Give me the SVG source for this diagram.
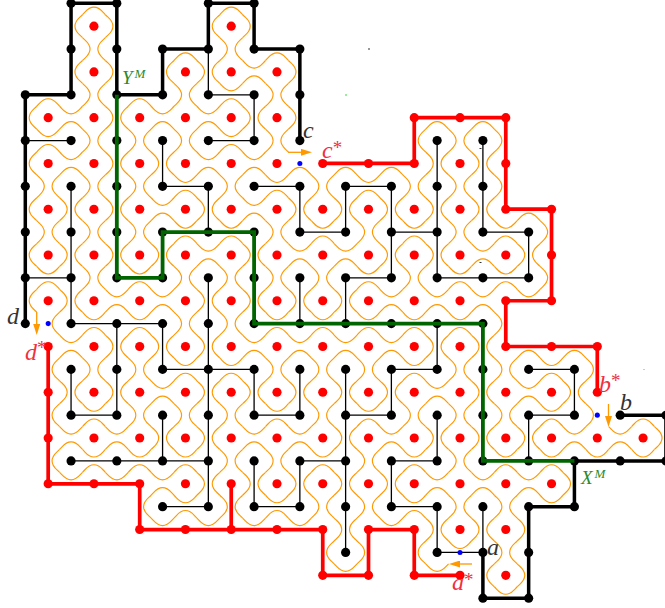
<svg xmlns="http://www.w3.org/2000/svg" width="665" height="608" viewBox="0 0 665 608">
<style>
path{vector-effect:non-scaling-stroke}
circle{r:.2px}
.o{fill:none;stroke:#f90;stroke-width:1.15}
.c{fill:none;stroke-linejoin:miter}
.thin{stroke:#000;stroke-width:1.3}
.thick{stroke:#000;stroke-width:3.5}
.green{stroke:#006400;stroke-width:3.8}
.red{stroke:#f00;stroke-width:3.7}
.k{fill:#000}
.r{fill:#f00}
.u circle{fill:#00f;r:.11px}
.ar{fill:none;stroke:#f90;stroke-width:1.3}
text{font-family:"Liberation Serif","DejaVu Serif",serif;font-style:italic}
.t{font-size:24px;fill:#333}
.ts{font-size:24px;fill:#f03040}
.s{font-size:19px;font-style:normal}
.m{font-size:19px;fill:#2a8a2a}
.ms{font-size:13px}
</style>
<defs>
<path id="L" d="M-.5-.5C-.33-.33-.17-.25-.17 0S-.33.33-.5.5"/>
<path id="R" d="M.5-.5C.33-.33.17-.25.17 0S.33.33.5.5"/>
<path id="T" d="M-.5-.5C-.33-.33-.25-.17 0-.17S.33-.33.5-.5"/>
<path id="B" d="M-.5.5C-.33.33-.25.17 0 .17S.33.33.5.5"/>
<g id="v"><use href="#L"/><use href="#R"/></g>
<g id="h"><use href="#T"/><use href="#B"/></g>
<marker id="ah" markerUnits="userSpaceOnUse" viewBox="0 0 11 7" refX="0" refY="3.5" markerWidth="11" markerHeight="7" orient="auto"><path d="M0 0L11 3.5L0 7z" fill="#f90"/></marker>
</defs>
<g id="lattice" transform="translate(25.300,3.300) scale(22.880)">
<g id="curves" class="o">
<g transform="translate(0,0)"><use href="#B" x="3"/><use href="#B" x="9"/></g>
<g transform="translate(0,1)"><use href="#R" x="2"/><use href="#L" x="4"/><use href="#R" x="8"/><use href="#L" x="10"/></g>
<g transform="translate(0,2)"><use href="#v" x="3"/><use href="#B" x="7"/><use href="#v" x="9"/><use href="#B" x="11"/></g>
<g transform="translate(0,3)"><use href="#R" x="2"/><use href="#L" x="4"/><use href="#R" x="6"/><use href="#v" x="8"/><use href="#h" x="10"/><use href="#L" x="12"/></g>
<g transform="translate(0,4)"><use href="#B" x="1"/><use href="#v" x="3"/><use href="#B" x="5"/><use href="#v" x="7"/><use href="#h" x="9"/><use href="#v" x="11"/></g>
<g transform="translate(0,5)"><use href="#R" x="0"/><use href="#h" x="2"/><use href="#v" x="4"/><use href="#h" x="6"/><use href="#h" x="8"/><use href="#v" x="10"/><use href="#L" x="12"/><use href="#B" x="18"/><use href="#B" x="20"/></g>
<g transform="translate(0,6)"><use href="#h" x="1"/><use href="#v" x="3"/><use href="#v" x="5"/><use href="#v" x="7"/><use href="#h" x="9"/><use href="#v" x="11"/><use href="#R" x="17"/><use href="#v" x="19"/><use href="#L" x="21"/></g>
<g transform="translate(0,7)"><use href="#R" x="0"/><use href="#h" x="2"/><use href="#v" x="4"/><use href="#v" x="6"/><use href="#h" x="8"/><use href="#h" x="10"/><use href="#B" x="12"/><use href="#B" x="14"/><use href="#B" x="16"/><use href="#v" x="18"/><use href="#v" x="20"/></g>
<g transform="translate(0,8)"><use href="#v" x="1"/><use href="#v" x="3"/><use href="#v" x="5"/><use href="#h" x="7"/><use href="#v" x="9"/><use href="#h" x="11"/><use href="#v" x="13"/><use href="#h" x="15"/><use href="#v" x="17"/><use href="#v" x="19"/><use href="#L" x="21"/></g>
<g transform="translate(0,9)"><use href="#R" x="0"/><use href="#v" x="2"/><use href="#v" x="4"/><use href="#h" x="6"/><use href="#v" x="8"/><use href="#h" x="10"/><use href="#v" x="12"/><use href="#v" x="14"/><use href="#v" x="16"/><use href="#v" x="18"/><use href="#v" x="20"/><use href="#B" x="22"/></g>
<g transform="translate(0,10)"><use href="#v" x="1"/><use href="#v" x="3"/><use href="#v" x="5"/><use href="#h" x="7"/><use href="#h" x="9"/><use href="#v" x="11"/><use href="#h" x="13"/><use href="#v" x="15"/><use href="#h" x="17"/><use href="#v" x="19"/><use href="#h" x="21"/><use href="#L" x="23"/></g>
<g transform="translate(0,11)"><use href="#R" x="0"/><use href="#v" x="2"/><use href="#v" x="4"/><use href="#v" x="6"/><use href="#h" x="8"/><use href="#v" x="10"/><use href="#h" x="12"/><use href="#h" x="14"/><use href="#v" x="16"/><use href="#v" x="18"/><use href="#h" x="20"/><use href="#v" x="22"/></g>
<g transform="translate(0,12)"><use href="#h" x="1"/><use href="#v" x="3"/><use href="#h" x="5"/><use href="#v" x="7"/><use href="#v" x="9"/><use href="#v" x="11"/><use href="#v" x="13"/><use href="#h" x="15"/><use href="#v" x="17"/><use href="#h" x="19"/><use href="#h" x="21"/><use href="#L" x="23"/></g>
<g transform="translate(0,13)"><use href="#R" x="0"/><use href="#v" x="2"/><use href="#h" x="4"/><use href="#h" x="6"/><use href="#v" x="8"/><use href="#v" x="10"/><use href="#v" x="12"/><use href="#v" x="14"/><use href="#h" x="16"/><use href="#h" x="18"/><use href="#h" x="20"/><use href="#T" x="22"/></g>
<g transform="translate(0,14)"><use href="#R" x="1"/><use href="#h" x="3"/><use href="#h" x="5"/><use href="#v" x="7"/><use href="#v" x="9"/><use href="#h" x="11"/><use href="#h" x="13"/><use href="#h" x="15"/><use href="#h" x="17"/><use href="#h" x="19"/><use href="#L" x="21"/></g>
<g transform="translate(0,15)"><use href="#h" x="2"/><use href="#v" x="4"/><use href="#v" x="6"/><use href="#v" x="8"/><use href="#h" x="10"/><use href="#h" x="12"/><use href="#h" x="14"/><use href="#h" x="16"/><use href="#v" x="18"/><use href="#v" x="20"/><use href="#B" x="22"/><use href="#B" x="24"/></g>
<g transform="translate(0,16)"><use href="#R" x="1"/><use href="#v" x="3"/><use href="#v" x="5"/><use href="#h" x="7"/><use href="#h" x="9"/><use href="#v" x="11"/><use href="#v" x="13"/><use href="#v" x="15"/><use href="#h" x="17"/><use href="#v" x="19"/><use href="#v" x="21"/><use href="#h" x="23"/><use href="#L" x="25"/></g>
<g transform="translate(0,17)"><use href="#v" x="2"/><use href="#v" x="4"/><use href="#h" x="6"/><use href="#v" x="8"/><use href="#v" x="10"/><use href="#v" x="12"/><use href="#v" x="14"/><use href="#v" x="16"/><use href="#h" x="18"/><use href="#v" x="20"/><use href="#h" x="22"/><use href="#v" x="24"/></g>
<g transform="translate(0,18)"><use href="#R" x="1"/><use href="#h" x="3"/><use href="#v" x="5"/><use href="#v" x="7"/><use href="#v" x="9"/><use href="#h" x="11"/><use href="#v" x="13"/><use href="#h" x="15"/><use href="#v" x="17"/><use href="#v" x="19"/><use href="#v" x="21"/><use href="#h" x="23"/><use href="#L" x="25"/><use href="#B" x="27"/></g>
<g transform="translate(0,19)"><use href="#h" x="2"/><use href="#h" x="4"/><use href="#v" x="6"/><use href="#v" x="8"/><use href="#h" x="10"/><use href="#h" x="12"/><use href="#v" x="14"/><use href="#h" x="16"/><use href="#v" x="18"/><use href="#v" x="20"/><use href="#v" x="22"/><use href="#h" x="24"/><use href="#h" x="26"/><use href="#L" x="28"/></g>
<g transform="translate(0,20)"><use href="#R" x="1"/><use href="#h" x="3"/><use href="#h" x="5"/><use href="#h" x="7"/><use href="#v" x="9"/><use href="#v" x="11"/><use href="#h" x="13"/><use href="#v" x="15"/><use href="#h" x="17"/><use href="#v" x="19"/><use href="#h" x="21"/><use href="#h" x="23"/><use href="#T" x="25"/><use href="#T" x="27"/></g>
<g transform="translate(0,21)"><use href="#T" x="2"/><use href="#T" x="4"/><use href="#h" x="6"/><use href="#v" x="8"/><use href="#v" x="10"/><use href="#v" x="12"/><use href="#v" x="14"/><use href="#v" x="16"/><use href="#h" x="18"/><use href="#h" x="20"/><use href="#h" x="22"/><use href="#L" x="24"/></g>
<g transform="translate(0,22)"><use href="#R" x="5"/><use href="#h" x="7"/><use href="#v" x="9"/><use href="#h" x="11"/><use href="#v" x="13"/><use href="#v" x="15"/><use href="#h" x="17"/><use href="#v" x="19"/><use href="#v" x="21"/><use href="#T" x="23"/></g>
<g transform="translate(0,23)"><use href="#T" x="6"/><use href="#T" x="8"/><use href="#T" x="10"/><use href="#T" x="12"/><use href="#v" x="14"/><use href="#T" x="16"/><use href="#v" x="18"/><use href="#v" x="20"/><use href="#L" x="22"/></g>
<g transform="translate(0,24)"><use href="#R" x="13"/><use href="#L" x="15"/><use href="#R" x="17"/><use href="#T" x="19"/><use href="#v" x="21"/></g>
<g transform="translate(0,25)"><use href="#T" x="14"/><use href="#T" x="18"/><use href="#R" x="20"/><use href="#L" x="22"/></g>
<g transform="translate(0,26)"><use href="#T" x="21"/></g>
</g>
<g id="connectors" class="c">
<path class="thin" d="M0 6H2M6 6V8H8V10M8 2V4H10V6H8M0 12H2M2 8V14H6V16H10V18H12V16M4 14V18H2V16M8 12V22H6M2 20H8M6 18V20M10 20V22H12V20H14M14 8V10H12V8H10M14 8H16V12H14V14M12 12V14M16 10H18M18 6V12H22V10H20V6M14 16V24M14 18H16V16H18V14M18 18V20H16V22H18V24H20V22M22 16H24V18H22V20"/>
<path class="thick" d="M0 14V4H2V0H4V4H6V2H8V0H10V2H12V6M26 18H28V20H24V22H22V26H20V24"/>
</g>
<g id="black-vertices" class="k">
<g id="k2_0"><circle cx="2" cy="0"/></g><g id="k4_0"><circle cx="4" cy="0"/></g><g id="k8_0"><circle cx="8" cy="0"/></g><g id="k10_0"><circle cx="10" cy="0"/></g>
<g id="k2_2"><circle cx="2" cy="2"/></g><g id="k4_2"><circle cx="4" cy="2"/></g><g id="k6_2"><circle cx="6" cy="2"/></g><g id="k8_2"><circle cx="8" cy="2"/></g><g id="k10_2"><circle cx="10" cy="2"/></g><g id="k12_2"><circle cx="12" cy="2"/></g>
<g id="k0_4"><circle cx="0" cy="4"/></g><g id="k2_4"><circle cx="2" cy="4"/></g><g id="k4_4"><circle cx="4" cy="4"/></g><g id="k6_4"><circle cx="6" cy="4"/></g><g id="k8_4"><circle cx="8" cy="4"/></g><g id="k10_4"><circle cx="10" cy="4"/></g><g id="k12_4"><circle cx="12" cy="4"/></g>
<g id="k0_6"><circle cx="0" cy="6"/></g><g id="k2_6"><circle cx="2" cy="6"/></g><g id="k4_6"><circle cx="4" cy="6"/></g><g id="k6_6"><circle cx="6" cy="6"/></g><g id="k8_6"><circle cx="8" cy="6"/></g><g id="k10_6"><circle cx="10" cy="6"/></g><g id="k12_6"><circle cx="12" cy="6"/></g><g id="k18_6"><circle cx="18" cy="6"/></g><g id="k20_6"><circle cx="20" cy="6"/></g>
<g id="k0_8"><circle cx="0" cy="8"/></g><g id="k2_8"><circle cx="2" cy="8"/></g><g id="k4_8"><circle cx="4" cy="8"/></g><g id="k6_8"><circle cx="6" cy="8"/></g><g id="k8_8"><circle cx="8" cy="8"/></g><g id="k10_8"><circle cx="10" cy="8"/></g><g id="k12_8"><circle cx="12" cy="8"/></g><g id="k14_8"><circle cx="14" cy="8"/></g><g id="k16_8"><circle cx="16" cy="8"/></g><g id="k18_8"><circle cx="18" cy="8"/></g><g id="k20_8"><circle cx="20" cy="8"/></g>
<g id="k0_10"><circle cx="0" cy="10"/></g><g id="k2_10"><circle cx="2" cy="10"/></g><g id="k4_10"><circle cx="4" cy="10"/></g><g id="k6_10"><circle cx="6" cy="10"/></g><g id="k8_10"><circle cx="8" cy="10"/></g><g id="k10_10"><circle cx="10" cy="10"/></g><g id="k12_10"><circle cx="12" cy="10"/></g><g id="k14_10"><circle cx="14" cy="10"/></g><g id="k16_10"><circle cx="16" cy="10"/></g><g id="k18_10"><circle cx="18" cy="10"/></g><g id="k20_10"><circle cx="20" cy="10"/></g><g id="k22_10"><circle cx="22" cy="10"/></g>
<g id="k0_12"><circle cx="0" cy="12"/></g><g id="k2_12"><circle cx="2" cy="12"/></g><g id="k4_12"><circle cx="4" cy="12"/></g><g id="k6_12"><circle cx="6" cy="12"/></g><g id="k8_12"><circle cx="8" cy="12"/></g><g id="k10_12"><circle cx="10" cy="12"/></g><g id="k12_12"><circle cx="12" cy="12"/></g><g id="k14_12"><circle cx="14" cy="12"/></g><g id="k16_12"><circle cx="16" cy="12"/></g><g id="k18_12"><circle cx="18" cy="12"/></g><g id="k20_12"><circle cx="20" cy="12"/></g><g id="k22_12"><circle cx="22" cy="12"/></g>
<g id="k0_14"><circle cx="0" cy="14"/></g><g id="k2_14"><circle cx="2" cy="14"/></g><g id="k4_14"><circle cx="4" cy="14"/></g><g id="k6_14"><circle cx="6" cy="14"/></g><g id="k8_14"><circle cx="8" cy="14"/></g><g id="k10_14"><circle cx="10" cy="14"/></g><g id="k12_14"><circle cx="12" cy="14"/></g><g id="k14_14"><circle cx="14" cy="14"/></g><g id="k16_14"><circle cx="16" cy="14"/></g><g id="k18_14"><circle cx="18" cy="14"/></g><g id="k20_14"><circle cx="20" cy="14"/></g>
<g id="k2_16"><circle cx="2" cy="16"/></g><g id="k4_16"><circle cx="4" cy="16"/></g><g id="k6_16"><circle cx="6" cy="16"/></g><g id="k8_16"><circle cx="8" cy="16"/></g><g id="k10_16"><circle cx="10" cy="16"/></g><g id="k12_16"><circle cx="12" cy="16"/></g><g id="k14_16"><circle cx="14" cy="16"/></g><g id="k16_16"><circle cx="16" cy="16"/></g><g id="k18_16"><circle cx="18" cy="16"/></g><g id="k20_16"><circle cx="20" cy="16"/></g><g id="k22_16"><circle cx="22" cy="16"/></g><g id="k24_16"><circle cx="24" cy="16"/></g>
<g id="k2_18"><circle cx="2" cy="18"/></g><g id="k4_18"><circle cx="4" cy="18"/></g><g id="k6_18"><circle cx="6" cy="18"/></g><g id="k8_18"><circle cx="8" cy="18"/></g><g id="k10_18"><circle cx="10" cy="18"/></g><g id="k12_18"><circle cx="12" cy="18"/></g><g id="k14_18"><circle cx="14" cy="18"/></g><g id="k16_18"><circle cx="16" cy="18"/></g><g id="k18_18"><circle cx="18" cy="18"/></g><g id="k20_18"><circle cx="20" cy="18"/></g><g id="k22_18"><circle cx="22" cy="18"/></g><g id="k24_18"><circle cx="24" cy="18"/></g><g id="k26_18"><circle cx="26" cy="18"/></g><g id="k28_18"><circle cx="28" cy="18"/></g>
<g id="k2_20"><circle cx="2" cy="20"/></g><g id="k4_20"><circle cx="4" cy="20"/></g><g id="k6_20"><circle cx="6" cy="20"/></g><g id="k8_20"><circle cx="8" cy="20"/></g><g id="k10_20"><circle cx="10" cy="20"/></g><g id="k12_20"><circle cx="12" cy="20"/></g><g id="k14_20"><circle cx="14" cy="20"/></g><g id="k16_20"><circle cx="16" cy="20"/></g><g id="k18_20"><circle cx="18" cy="20"/></g><g id="k20_20"><circle cx="20" cy="20"/></g><g id="k22_20"><circle cx="22" cy="20"/></g><g id="k24_20"><circle cx="24" cy="20"/></g><g id="k26_20"><circle cx="26" cy="20"/></g><g id="k28_20"><circle cx="28" cy="20"/></g>
<g id="k6_22"><circle cx="6" cy="22"/></g><g id="k8_22"><circle cx="8" cy="22"/></g><g id="k10_22"><circle cx="10" cy="22"/></g><g id="k12_22"><circle cx="12" cy="22"/></g><g id="k14_22"><circle cx="14" cy="22"/></g><g id="k16_22"><circle cx="16" cy="22"/></g><g id="k18_22"><circle cx="18" cy="22"/></g><g id="k20_22"><circle cx="20" cy="22"/></g><g id="k22_22"><circle cx="22" cy="22"/></g><g id="k24_22"><circle cx="24" cy="22"/></g>
<g id="k14_24"><circle cx="14" cy="24"/></g><g id="k18_24"><circle cx="18" cy="24"/></g><g id="k20_24"><circle cx="20" cy="24"/></g><g id="k22_24"><circle cx="22" cy="24"/></g>
<g id="k20_26"><circle cx="20" cy="26"/></g><g id="k22_26"><circle cx="22" cy="26"/></g>
</g>
<g id="connectors-green" class="c"><path class="green" d="M4 4V12H6V10H10V14H20V20H24"/></g>
<g id="connectors-red" class="c"><path class="red" d="M13 7H17V5H21V9H23V13H21V15H25V17M1 15V21H5V23H13V25H15V23H17V25H19M9 21V23"/></g>
<g id="red-vertices" class="r">
<g id="r3_1"><circle cx="3" cy="1"/></g><g id="r9_1"><circle cx="9" cy="1"/></g>
<g id="r3_3"><circle cx="3" cy="3"/></g><g id="r7_3"><circle cx="7" cy="3"/></g><g id="r9_3"><circle cx="9" cy="3"/></g><g id="r11_3"><circle cx="11" cy="3"/></g>
<g id="r1_5"><circle cx="1" cy="5"/></g><g id="r3_5"><circle cx="3" cy="5"/></g><g id="r5_5"><circle cx="5" cy="5"/></g><g id="r7_5"><circle cx="7" cy="5"/></g><g id="r9_5"><circle cx="9" cy="5"/></g><g id="r11_5"><circle cx="11" cy="5"/></g><g id="r17_5"><circle cx="17" cy="5"/></g><g id="r19_5"><circle cx="19" cy="5"/></g><g id="r21_5"><circle cx="21" cy="5"/></g>
<g id="r1_7"><circle cx="1" cy="7"/></g><g id="r3_7"><circle cx="3" cy="7"/></g><g id="r5_7"><circle cx="5" cy="7"/></g><g id="r7_7"><circle cx="7" cy="7"/></g><g id="r9_7"><circle cx="9" cy="7"/></g><g id="r11_7"><circle cx="11" cy="7"/></g><g id="r13_7"><circle cx="13" cy="7"/></g><g id="r15_7"><circle cx="15" cy="7"/></g><g id="r17_7"><circle cx="17" cy="7"/></g><g id="r19_7"><circle cx="19" cy="7"/></g><g id="r21_7"><circle cx="21" cy="7"/></g>
<g id="r1_9"><circle cx="1" cy="9"/></g><g id="r3_9"><circle cx="3" cy="9"/></g><g id="r5_9"><circle cx="5" cy="9"/></g><g id="r7_9"><circle cx="7" cy="9"/></g><g id="r9_9"><circle cx="9" cy="9"/></g><g id="r11_9"><circle cx="11" cy="9"/></g><g id="r13_9"><circle cx="13" cy="9"/></g><g id="r15_9"><circle cx="15" cy="9"/></g><g id="r17_9"><circle cx="17" cy="9"/></g><g id="r19_9"><circle cx="19" cy="9"/></g><g id="r21_9"><circle cx="21" cy="9"/></g><g id="r23_9"><circle cx="23" cy="9"/></g>
<g id="r1_11"><circle cx="1" cy="11"/></g><g id="r3_11"><circle cx="3" cy="11"/></g><g id="r5_11"><circle cx="5" cy="11"/></g><g id="r7_11"><circle cx="7" cy="11"/></g><g id="r9_11"><circle cx="9" cy="11"/></g><g id="r11_11"><circle cx="11" cy="11"/></g><g id="r13_11"><circle cx="13" cy="11"/></g><g id="r15_11"><circle cx="15" cy="11"/></g><g id="r17_11"><circle cx="17" cy="11"/></g><g id="r19_11"><circle cx="19" cy="11"/></g><g id="r21_11"><circle cx="21" cy="11"/></g><g id="r23_11"><circle cx="23" cy="11"/></g>
<g id="r1_13"><circle cx="1" cy="13"/></g><g id="r3_13"><circle cx="3" cy="13"/></g><g id="r5_13"><circle cx="5" cy="13"/></g><g id="r7_13"><circle cx="7" cy="13"/></g><g id="r9_13"><circle cx="9" cy="13"/></g><g id="r11_13"><circle cx="11" cy="13"/></g><g id="r13_13"><circle cx="13" cy="13"/></g><g id="r15_13"><circle cx="15" cy="13"/></g><g id="r17_13"><circle cx="17" cy="13"/></g><g id="r19_13"><circle cx="19" cy="13"/></g><g id="r21_13"><circle cx="21" cy="13"/></g><g id="r23_13"><circle cx="23" cy="13"/></g>
<g id="r1_15"><circle cx="1" cy="15"/></g><g id="r3_15"><circle cx="3" cy="15"/></g><g id="r5_15"><circle cx="5" cy="15"/></g><g id="r7_15"><circle cx="7" cy="15"/></g><g id="r9_15"><circle cx="9" cy="15"/></g><g id="r11_15"><circle cx="11" cy="15"/></g><g id="r13_15"><circle cx="13" cy="15"/></g><g id="r15_15"><circle cx="15" cy="15"/></g><g id="r17_15"><circle cx="17" cy="15"/></g><g id="r19_15"><circle cx="19" cy="15"/></g><g id="r21_15"><circle cx="21" cy="15"/></g><g id="r23_15"><circle cx="23" cy="15"/></g><g id="r25_15"><circle cx="25" cy="15"/></g>
<g id="r1_17"><circle cx="1" cy="17"/></g><g id="r3_17"><circle cx="3" cy="17"/></g><g id="r5_17"><circle cx="5" cy="17"/></g><g id="r7_17"><circle cx="7" cy="17"/></g><g id="r9_17"><circle cx="9" cy="17"/></g><g id="r11_17"><circle cx="11" cy="17"/></g><g id="r13_17"><circle cx="13" cy="17"/></g><g id="r15_17"><circle cx="15" cy="17"/></g><g id="r17_17"><circle cx="17" cy="17"/></g><g id="r19_17"><circle cx="19" cy="17"/></g><g id="r21_17"><circle cx="21" cy="17"/></g><g id="r23_17"><circle cx="23" cy="17"/></g><g id="r25_17"><circle cx="25" cy="17"/></g>
<g id="r1_19"><circle cx="1" cy="19"/></g><g id="r3_19"><circle cx="3" cy="19"/></g><g id="r5_19"><circle cx="5" cy="19"/></g><g id="r7_19"><circle cx="7" cy="19"/></g><g id="r9_19"><circle cx="9" cy="19"/></g><g id="r11_19"><circle cx="11" cy="19"/></g><g id="r13_19"><circle cx="13" cy="19"/></g><g id="r15_19"><circle cx="15" cy="19"/></g><g id="r17_19"><circle cx="17" cy="19"/></g><g id="r19_19"><circle cx="19" cy="19"/></g><g id="r21_19"><circle cx="21" cy="19"/></g><g id="r23_19"><circle cx="23" cy="19"/></g><g id="r25_19"><circle cx="25" cy="19"/></g><g id="r27_19"><circle cx="27" cy="19"/></g>
<g id="r1_21"><circle cx="1" cy="21"/></g><g id="r3_21"><circle cx="3" cy="21"/></g><g id="r5_21"><circle cx="5" cy="21"/></g><g id="r7_21"><circle cx="7" cy="21"/></g><g id="r9_21"><circle cx="9" cy="21"/></g><g id="r11_21"><circle cx="11" cy="21"/></g><g id="r13_21"><circle cx="13" cy="21"/></g><g id="r15_21"><circle cx="15" cy="21"/></g><g id="r17_21"><circle cx="17" cy="21"/></g><g id="r19_21"><circle cx="19" cy="21"/></g><g id="r21_21"><circle cx="21" cy="21"/></g><g id="r23_21"><circle cx="23" cy="21"/></g>
<g id="r5_23"><circle cx="5" cy="23"/></g><g id="r7_23"><circle cx="7" cy="23"/></g><g id="r9_23"><circle cx="9" cy="23"/></g><g id="r11_23"><circle cx="11" cy="23"/></g><g id="r13_23"><circle cx="13" cy="23"/></g><g id="r15_23"><circle cx="15" cy="23"/></g><g id="r17_23"><circle cx="17" cy="23"/></g><g id="r19_23"><circle cx="19" cy="23"/></g><g id="r21_23"><circle cx="21" cy="23"/></g>
<g id="r13_25"><circle cx="13" cy="25"/></g><g id="r15_25"><circle cx="15" cy="25"/></g><g id="r17_25"><circle cx="17" cy="25"/></g><g id="r19_25"><circle cx="19" cy="25"/></g><g id="r21_25"><circle cx="21" cy="25"/></g>
</g>
<g id="blue-points" class="u">
<g id="u12_7"><circle cx="12" cy="7"/></g><g id="u1_14"><circle cx="1" cy="14"/></g><g id="u25_18"><circle cx="25" cy="18"/></g><g id="u19_24"><circle cx="19" cy="24"/></g>
</g>
</g>
<g id="arrows">
<path class="ar" d="M288 152.300H301" marker-end="url(#ah)"/>
<path class="ar" d="M36.700 312V324" marker-end="url(#ah)"/>
<path class="ar" d="M608.500 404V416" marker-end="url(#ah)"/>
<path class="ar" d="M472 564H460" marker-end="url(#ah)"/>
</g>
<g id="specks">
<rect x="368" y="48.500" width="2" height="1" fill="#333"/>
<rect x="345" y="94" width="2" height="2" fill="#9e9"/>
<rect x="479.500" y="148" width="2" height="1" fill="#333"/>
<rect x="479.500" y="262" width="2" height="1" fill="#333"/>
<rect x="643" y="369" width="2" height="1" fill="#9e9"/>
</g>
<g id="labels">
<text class="t" x="303" y="138">c</text>
<text class="ts" x="322" y="158">c<tspan class="s" dy="-4">*</tspan></text>
<text class="t" x="7" y="324">d</text>
<text class="ts" x="25" y="360">d<tspan class="s" dy="-6">*</tspan></text>
<text class="t" x="620" y="410">b</text>
<text class="ts" x="599" y="392">b<tspan class="s" dy="-5">*</tspan></text>
<text class="t" x="487" y="555">a</text>
<text class="ts" x="452" y="590">a<tspan class="s" dy="-4">*</tspan></text>
<text class="m" x="122" y="84">Y<tspan class="ms" dx="2" dy="-6">M</tspan></text>
<text class="m" x="581" y="484">X<tspan class="ms" dx="2" dy="-6">M</tspan></text>
</g>
</svg>
